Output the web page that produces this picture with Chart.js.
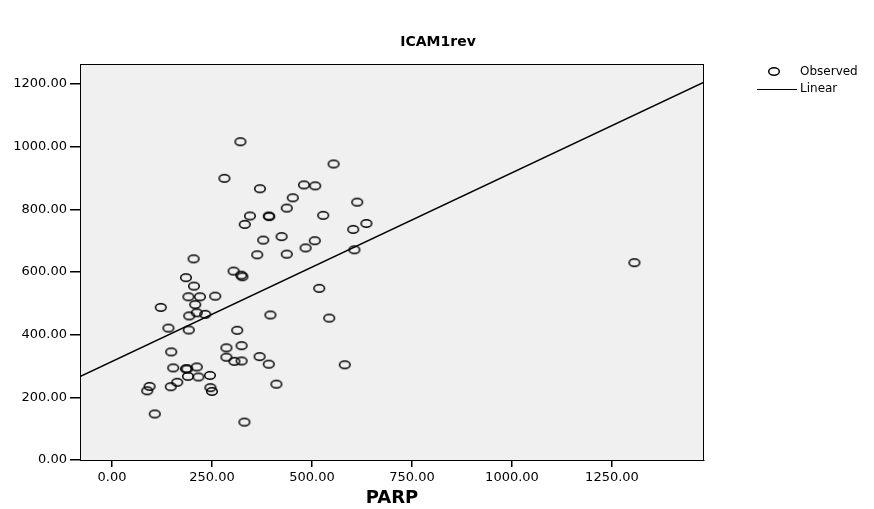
<!DOCTYPE html>
<html>
<head>
<meta charset="utf-8">
<script src="https://cdn.jsdelivr.net/npm/chart.js@4/dist/chart.umd.min.js"></script>
<style>
  html, body { margin: 0; padding: 0; background: #ffffff; }
  #wrap { width: 874px; height: 509px; position: relative; }
</style>
</head>
<body>
<div id="wrap"><canvas id="scatterChart" width="874" height="509"></canvas></div>
<script>
// valores
const parpValues = [321, 281, 370, 452, 437, 345, 392, 393, 332, 378, 424, 363, 437, 204, 304, 323, 326, 185, 205, 191,
  220, 258, 554, 480, 508, 613, 528, 636, 603, 507, 484, 606, 518, 1306, 122, 208, 193, 212, 233, 141,
  192, 396, 543, 313, 286, 324, 286, 306, 324, 369, 392, 582, 148, 153, 185, 188, 212, 190, 216, 245,
  163, 246, 250, 411, 331, 147, 94, 88, 107];
const icamValues = [1016, 899, 866, 837, 804, 779, 779, 777, 752, 702, 713, 655, 657, 642, 603, 590, 585, 582, 555, 521,
  521, 523, 945, 878, 875, 823, 781, 755, 736, 700, 677, 671, 548, 630, 487, 496, 460, 470, 465, 421,
  415, 463, 453, 414, 358, 365, 328, 315, 316, 330, 306, 304, 345, 294, 291, 291, 297, 267, 265, 270,
  248, 231, 219, 242, 121, 234, 235, 221, 147];

const lineX = [-80, 1480];
const lineY = [266, 1206];

const xTicks = [0, 250, 500, 750, 1000, 1250];
const yTicks = [0, 200, 400, 600, 800, 1000, 1200];

const chartTitle = "ICAM1rev";
const xTitle = "PARP";
const legendLabels = ["Observed", "Linear"];

// marcador elíptico (círculo vazado achatado)
function makeMarker() {
  const c = document.createElement("canvas");
  c.width = 14;
  c.height = 11;
  const g = c.getContext("2d");
  g.strokeStyle = "#000";
  g.lineWidth = 1.5;
  g.beginPath();
  g.ellipse(7, 5.5, 5.3, 3.8, 0, 0, Math.PI * 2);
  g.stroke();
  return c;
}
const marker = makeMarker();

const scatterData = parpValues.map((x, i) => ({ x: x, y: icamValues[i] }));
const lineData = lineX.map((x, i) => ({ x: x, y: lineY[i] }));

// fundo cinza, moldura, título e legenda
const framePlugin = {
  id: "frame",
  beforeDatasetsDraw(chart) {
    const { ctx, chartArea: a } = chart;
    ctx.save();
    ctx.fillStyle = "#f0f0f0";
    ctx.fillRect(a.left, a.top, a.right - a.left, a.bottom - a.top);
    ctx.restore();
  },
  afterDraw(chart) {
    const { ctx, chartArea: a } = chart;
    ctx.save();
    ctx.strokeStyle = "#000";
    ctx.lineWidth = 1;
    ctx.strokeRect(a.left + 0.5, a.top + 0.5, a.right - a.left - 1, a.bottom - a.top);

    // título
    ctx.fillStyle = "#000";
    ctx.textAlign = "center";
    ctx.textBaseline = "middle";
    ctx.font = "bold 14px 'DejaVu Sans'";
    ctx.fillText(chartTitle, 438, 42);

    // legenda
    ctx.drawImage(marker, 767, 66);
    ctx.lineWidth = 1.2;
    ctx.beginPath();
    ctx.moveTo(757, 89.5);
    ctx.lineTo(797, 89.5);
    ctx.stroke();
    ctx.font = "12px 'DejaVu Sans'";
    ctx.textAlign = "left";
    ctx.fillText(legendLabels[0], 800, 72);
    ctx.fillText(legendLabels[1], 800, 89);
    ctx.restore();
  }
};

const ctx = document.getElementById("scatterChart").getContext("2d");
new Chart(ctx, {
  type: "scatter",
  data: {
    datasets: [
      {
        label: legendLabels[0],
        data: scatterData,
        pointStyle: marker,
        pointRadius: 6,
        pointHoverRadius: 6,
        showLine: false,
      },
      {
        type: "line",
        label: legendLabels[1],
        data: lineData,
        borderColor: "#000",
        borderWidth: 1.5,
        pointRadius: 0,
        fill: false,
      },
    ],
  },
  options: {
    responsive: false,
    animation: false,
    events: [],
    layout: { padding: { left: 0, right: 170, top: 64, bottom: 0 } },
    plugins: {
      legend: { display: false },
      tooltip: { enabled: false },
      title: { display: false },
    },
    scales: {
      x: {
        type: "linear",
        min: lineX[0],
        max: lineX[1],
        afterBuildTicks(scale) {
          scale.ticks = xTicks.map((v) => ({ value: v }));
        },
        afterFit(scale) {
          scale.height = 49;
        },
        ticks: {
          color: "#000",
          font: { family: "'DejaVu Sans'", size: 13 },
          padding: 3,
          maxRotation: 0,
          callback: (v) => Number(v).toFixed(2),
        },
        grid: { display: true, drawOnChartArea: false, drawTicks: true, tickLength: 7, color: "#000", lineWidth: 1.5 },
        border: { display: true, color: "#000", width: 1 },
        title: {
          display: true,
          text: xTitle,
          color: "#000",
          font: { family: "'DejaVu Sans'", size: 18, weight: "bold" },
          padding: { top: 2, bottom: 0 },
        },
      },
      y: {
        type: "linear",
        min: 0,
        max: 1264,
        afterBuildTicks(scale) {
          scale.ticks = yTicks.map((v) => ({ value: v }));
        },
        afterFit(scale) {
          scale.width = 80;
        },
        ticks: {
          color: "#000",
          font: { family: "'DejaVu Sans'", size: 13 },
          padding: 3,
          callback: (v) => Number(v).toFixed(2),
        },
        grid: { display: true, drawOnChartArea: false, drawTicks: true, tickLength: 10, color: "#000", lineWidth: 1.5 },
        border: { display: true, color: "#000", width: 1 },
      },
    },
  },
  plugins: [framePlugin],
});
</script>
</body>
</html>
